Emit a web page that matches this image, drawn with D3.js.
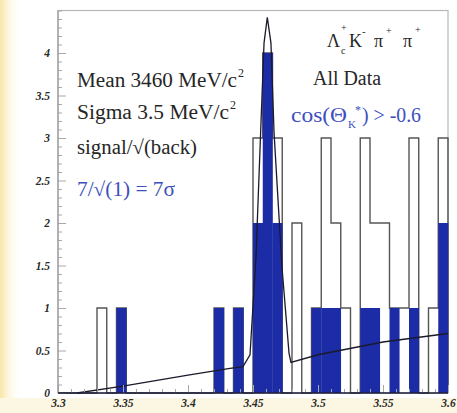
<!DOCTYPE html>
<html>
<head>
<meta charset="utf-8">
<script src="https://cdn.jsdelivr.net/npm/d3@7"></script>
<style>
  html, body { margin: 0; padding: 0; background: #fff; }
  svg { display: block; }
</style>
</head>
<body>
<svg id="chart" width="457" height="413"></svg>
<script>
// ---------------- data ----------------
const massMin = 3.3;
const massMax = 3.6;
const binCount = 40;
// "All Data" histogram (hollow outline), one value per bin
const allData = [0,0,0,0,1,0,1,0,0,0, 0,0,0,0,0,0,1,0,1,0, 3,4,3,0,2,0,1,3,2,1, 0,3,2,2,1,1,3,0,1,3];
// cos(theta_K*) > -0.6 histogram (filled blue), one value per bin
const cutData = [0,0,0,0,0,0,1,0,0,0, 0,0,0,0,0,0,1,0,1,0, 2,4,2,0,0,0,1,1,1,0, 0,1,1,0,1,0,1,0,0,2];
// fit curve
const fitMass  = [3.3146, 3.35, 3.40, 3.4323, 3.4423, 3.4477, 3.4523, 3.4562, 3.4585, 3.4610, 3.4638, 3.4662, 3.4723, 3.4777, 3.4792, 3.50, 3.55, 3.60];
const fitValue = [0,      0.08, 0.21, 0.29,   0.31,   0.45,   1.6,    3.2,    4.12,   4.42,   4.12,   3.06,   1.48,   0.47,   0.36,   0.45, 0.60, 0.70];
const xTicks = [3.3, 3.35, 3.4, 3.45, 3.5, 3.55, 3.6];
const xTickLabels = ["3.3", "3.35", "3.4", "3.45", "3.5", "3.55", "3.6"];
const yTicks = [0, 0.5, 1, 1.5, 2, 2.5, 3, 3.5, 4];
const yTickLabels = ["0", "0.5", "1", "1.5", "2", "2.5", "3", "3.5", "4"];
const yMax = 4.5;

// ---------------- drawing ----------------
(function () {
const svg = d3.select("#chart");
const W = 457, H = 413;
const pL = 58, pR = 448, pT = 10.5, pB = 393;

const x = d3.scaleLinear().domain([massMin, massMax]).range([pL, pR]);
const y = d3.scaleLinear().domain([0, yMax]).range([pB, pT]);
const binWidth = (massMax - massMin) / binCount;

// background tint (scan look)
const defs = svg.append("defs");
const lg = defs.append("linearGradient").attr("id", "leftTint").attr("x1", 0).attr("x2", 1).attr("y1", 0).attr("y2", 0);
lg.append("stop").attr("offset", 0).attr("stop-color", "#f7e6a6");
lg.append("stop").attr("offset", 1).attr("stop-color", "#ffffff").attr("stop-opacity", 0);
svg.append("rect").attr("width", W).attr("height", H).attr("fill", "#ffffff");
svg.append("rect").attr("x", 0).attr("y", 0).attr("width", 22).attr("height", H).attr("fill", "url(#leftTint)");
svg.append("rect").attr("x", 0).attr("y", 398).attr("width", W).attr("height", 15).attr("fill", "#fcf7e2");

// frame
svg.append("rect")
  .attr("x", pL).attr("y", pT).attr("width", pR - pL).attr("height", pB - pT)
  .attr("fill", "none").attr("stroke", "#b8b8b8").attr("stroke-width", 1.2);

// hollow histogram as a step outline
const stepPts = [[massMin, 0]];
allData.forEach((v, i) => stepPts.push([massMin + i * binWidth, v]));
stepPts.push([massMax, allData[allData.length - 1]]);
stepPts.push([massMax, 0]);
const stepLine = d3.line().x(d => x(d[0])).y(d => y(d[1])).curve(d3.curveStepAfter);
svg.append("path").attr("d", stepLine(stepPts))
  .attr("fill", "none").attr("stroke", "#555").attr("stroke-width", 1.4);

// filled blue bars
svg.append("g").selectAll("rect")
  .data(cutData.map((v, i) => ({ lo: massMin + i * binWidth, hi: massMin + (i + 1) * binWidth, v })).filter(d => d.v > 0))
  .join("rect")
  .attr("x", d => x(d.lo))
  .attr("width", d => x(d.hi) - x(d.lo) + 0.3)
  .attr("y", d => y(d.v))
  .attr("height", d => y(0) - y(d.v))
  .attr("fill", "#1c2ca6");

// fit curve
const fitLine = d3.line().x(d => x(d[0])).y(d => y(d[1]));
svg.append("path").attr("d", fitLine(fitMass.map((m, i) => [m, fitValue[i]])))
  .attr("fill", "none").attr("stroke", "#1a1a2a").attr("stroke-width", 1.3);

// axes
const yMinor = d3.range(0, 4.5001, 0.1).filter(v => yTicks.indexOf(Math.round(v * 10) / 10) < 0);
const xMinor = d3.range(3.3, 3.6001, 0.01);

const yAxis = svg.append("g").attr("transform", `translate(${pL},0)`)
  .call(d3.axisLeft(y).tickValues(yTicks).tickSize(-8).tickPadding(8)
    .tickFormat((d, i) => yTickLabels[i]));
const yAxisMinor = svg.append("g").attr("transform", `translate(${pL},0)`)
  .call(d3.axisLeft(y).tickValues(yMinor).tickSize(-4).tickFormat(""));
const xAxis = svg.append("g").attr("transform", `translate(0,${pB})`)
  .call(d3.axisBottom(x).tickValues(xTicks).tickSize(-8).tickPadding(6)
    .tickFormat((d, i) => xTickLabels[i]));
const xAxisMinor = svg.append("g").attr("transform", `translate(0,${pB})`)
  .call(d3.axisBottom(x).tickValues(xMinor).tickSize(-4).tickFormat(""));

[yAxis, yAxisMinor, xAxis, xAxisMinor].forEach(g => {
  g.select(".domain").remove();
  g.selectAll(".tick line").attr("stroke", "#a8a8a8").attr("stroke-width", 1);
  g.selectAll("text")
    .attr("font-family", "'Liberation Serif', 'DejaVu Serif', serif")
    .attr("font-weight", "bold").attr("font-style", "italic")
    .attr("font-size", 11.5).attr("fill", "#2a2a2a");
});
// axis lines
svg.append("line").attr("x1", pL).attr("x2", pL).attr("y1", pT).attr("y2", pB)
  .attr("stroke", "#9a9a9a").attr("stroke-width", 1.2);
svg.append("line").attr("x1", pL).attr("x2", pR).attr("y1", pB).attr("y2", pB)
  .attr("stroke", "#1e1e3a").attr("stroke-width", 1.6);

// texts
const serif = "'Liberation Serif', 'Times New Roman', serif";
const black = "#262626";
const blueText = "#3d4fc0";
function txt(str, px, py, size, color, len) {
  const t = svg.append("text").attr("x", px).attr("y", py)
    .attr("font-family", serif).attr("font-size", size).attr("fill", color).text(str);
  if (len) t.attr("textLength", len).attr("lengthAdjust", "spacingAndGlyphs");
  return t;
}
txt("Mean 3460 MeV/c", 77, 87, 20, black, 160);
txt("2", 238, 77, 12, black);
txt("Sigma 3.5 MeV/c", 77, 119, 20, black, 152);
txt("2", 230, 109, 12, black);
txt("signal/\u221A(back)", 77, 154, 20, black, 120);
txt("7/\u221A(1) = 7\u03C3", 77, 196, 20, blueText, 98);

txt("All Data", 313, 85, 20, black, 68);

// Lambda_c^+ K^- pi^+ pi^+
txt("\u039B", 327, 47, 18, black);
txt("c", 341, 54, 10, black);
txt("+", 341, 31, 10, black);
txt("K", 349, 47, 18, black);
txt("-", 362, 35, 11, black);
txt("\u03C0", 374, 47, 18, black);
txt("+", 386, 34, 10, black);
txt("\u03C0", 403, 47, 18, black);
txt("+", 415, 33, 10, black);

// cos(Theta_K*) > -0.6
txt("cos(\u0398", 291, 122, 20, blueText, 56);
txt("K", 348, 128, 11, blueText);
txt("*", 355, 114, 12, blueText);
txt(") > -0.6", 362, 122, 20, blueText, 59);
})();
</script>
</body>
</html>
